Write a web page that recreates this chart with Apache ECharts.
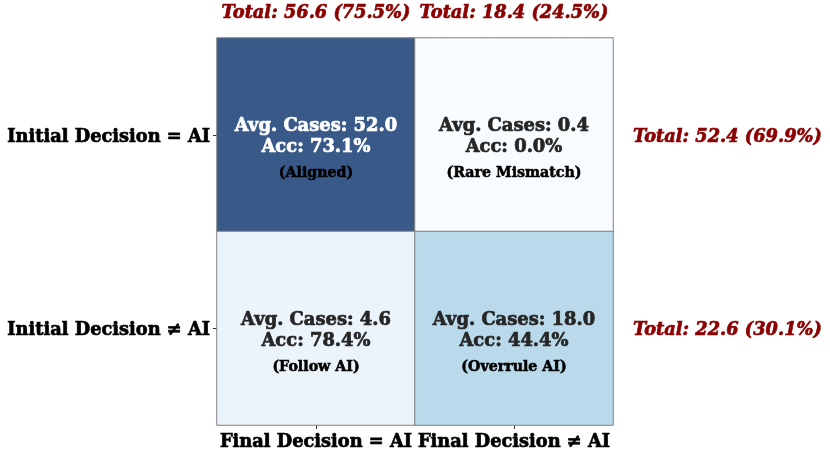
<!DOCTYPE html>
<html>
<head>
<meta charset="utf-8">
<script src="https://cdn.jsdelivr.net/npm/echarts@6/dist/echarts.min.js"></script>
<style>html,body{margin:0;padding:0;background:#fff;}#c{width:830px;height:456px;}</style>
</head>
<body>
<div id="c"></div>
<script>
const colLabels = ['Final Decision = AI', 'Final Decision \u2260 AI'];
const rowLabels = ['Initial Decision = AI', 'Initial Decision \u2260 AI'];
const avgCases = [[52.0, 0.4], [4.6, 18.0]];
const accuracy = [[73.1, 0.0], [78.4, 44.4]];
const cellNames = [['Aligned', 'Rare Mismatch'], ['Follow AI', 'Overrule AI']];
const colTotals = [56.6, 18.4];
const colPcts = [75.5, 24.5];
const rowTotals = [52.4, 22.6];
const rowPcts = [69.9, 30.1];

// Blues colormap blended with white at alpha 0.8
const bluesA = ['#f9fcff', '#e5eff9', '#d1e2f2', '#b1d5e7', '#89bede', '#68a8d1', '#4d8dc4', '#3974b0', '#395989'];

const FONT = 'DejaVu Serif';
const HEAVY = 0.7;
const data = [];
let vmin = Infinity, vmax = -Infinity;
for (let r = 0; r < rowLabels.length; r++) {
  for (let c = 0; c < colLabels.length; c++) {
    const v = avgCases[r][c];
    vmin = Math.min(vmin, v); vmax = Math.max(vmax, v);
  }
}
for (let r = 0; r < rowLabels.length; r++) {
  for (let c = 0; c < colLabels.length; c++) {
    const v = avgCases[r][c];
    const dark = (v - vmin) / (vmax - vmin) > 0.6;
    const mainColor = dark ? '#ffffff' : '#262626';
    data.push({
      value: [c, r, v],
      label: {
        formatter: '{a|Avg. Cases: ' + v.toFixed(1) + '}\n{a|Acc: ' + accuracy[r][c].toFixed(1) + '%}\n{b|(' + cellNames[r][c] + ')}',
        rich: {
          a: { fontFamily: FONT, fontWeight: 'bold', fontSize: 17.9, lineHeight: 21, color: mainColor, textBorderColor: mainColor, textBorderWidth: HEAVY, align: 'center' },
          b: { fontFamily: FONT, fontWeight: 'bold', fontSize: 14.2, lineHeight: 31, color: '#000000', textBorderColor: '#000000', textBorderWidth: HEAVY * 0.8, align: 'center' }
        }
      }
    });
  }
}

const chart = echarts.init(document.getElementById('c'), null, { renderer: 'canvas' });
const axisLabelBase = { fontFamily: FONT, fontWeight: 'bold', fontSize: 17.8, color: '#000', textBorderColor: '#000', textBorderWidth: HEAVY };
const totalStyle = { fontFamily: FONT, fontWeight: 'bold', fontStyle: 'italic', fontSize: 17.8, color: '#8b0000', textBorderColor: '#8b0000', textBorderWidth: HEAVY };
chart.setOption({
  animation: false,
  backgroundColor: '#ffffff',
  grid: { left: 217, right: 217, top: 38, bottom: 31, containLabel: false },
  xAxis: [
    {
      type: 'category', data: colLabels, position: 'bottom',
      axisLine: { show: false },
      axisTick: { show: true, alignWithLabel: true, length: 4, lineStyle: { color: '#333' } },
      axisLabel: Object.assign({ margin: 8, interval: 0 }, axisLabelBase),
      splitLine: { show: false }
    },
    {
      type: 'category', data: colTotals.map((t, i) => 'Total: ' + t.toFixed(1) + ' (' + colPcts[i].toFixed(1) + '%)'),
      position: 'top',
      axisLine: { show: false }, axisTick: { show: false },
      axisLabel: Object.assign({ margin: 16, interval: 0 }, totalStyle),
      splitLine: { show: false }
    }
  ],
  yAxis: [
    {
      type: 'category', data: rowLabels, inverse: true, position: 'left',
      axisLine: { show: false },
      axisTick: { show: true, alignWithLabel: true, length: 4, lineStyle: { color: '#333' } },
      axisLabel: { margin: 7, interval: 0, formatter: (v) => '{p|' + v + '}', rich: { p: Object.assign({ padding: [5, 0, 0, 0] }, axisLabelBase) } },
      splitLine: { show: false }
    },
    {
      type: 'category', data: rowTotals.map((t, i) => 'Total: ' + t.toFixed(1) + ' (' + rowPcts[i].toFixed(1) + '%)'),
      inverse: true, position: 'right',
      axisLine: { show: false }, axisTick: { show: false },
      axisLabel: { margin: 20, interval: 0, align: 'left', formatter: (v) => '{p|' + v + '}', rich: { p: Object.assign({ padding: [5, 0, 0, 0] }, totalStyle) } },
      splitLine: { show: false }
    }
  ],
  visualMap: {
    show: false, type: 'continuous', min: vmin, max: vmax, dimension: 2, seriesIndex: 0,
    inRange: { color: bluesA }
  },
  series: [{
    type: 'heatmap',
    xAxisIndex: 0, yAxisIndex: 0,
    data: data,
    itemStyle: { borderColor: '#808080', borderWidth: 1 },
    label: { show: true, offset: [0, 18] },
    emphasis: { disabled: true }
  }]
});
</script>
</body>
</html>
